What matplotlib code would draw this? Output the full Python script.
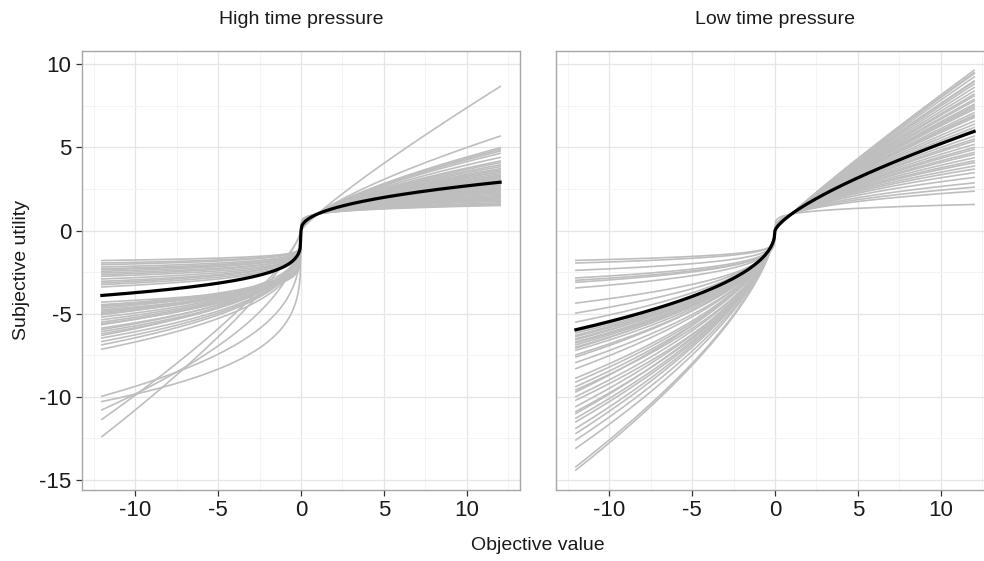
import numpy as np
import matplotlib

matplotlib.use("Agg")
import matplotlib.pyplot as plt
from matplotlib.ticker import MultipleLocator

plt.rcParams["font.family"] = ["Liberation Sans", "DejaVu Sans"]
plt.rcParams["axes.unicode_minus"] = False

PANELS = ["High time pressure", "Low time pressure"]

# subjective utility at x = 12 (gains), x = -12 and x = -4 (losses)
HIGH_GAIN_END = [8.66, 5.68, 4.98, 4.88, 4.78, 4.64, 4.40, 4.18, 4.08, 3.95, 3.84,
                 3.72, 3.65, 3.57, 3.50, 3.41, 3.33, 3.27, 3.20, 3.13, 3.05, 2.98,
                 2.85, 2.78, 2.71, 2.64, 2.57, 2.50, 2.41, 2.34, 2.27, 2.20, 2.11,
                 2.05, 1.97, 1.90, 1.83, 1.76, 1.67, 1.60, 1.55, 1.51, 2.00, 2.45]
HIGH_LOSS_END = [-1.80, -1.95, -2.05, -2.19, -2.30, -2.35, -2.45, -2.55, -2.65, -2.75,
                 -2.91, -3.05, -3.15, -3.25, -3.39,
                 -4.30, -4.45, -4.50, -4.56, -4.66, -4.76, -4.85, -4.92, -5.00, -5.06,
                 -5.20, -5.36, -5.50, -5.60, -5.66, -5.86, -5.95, -6.07, -6.20, -6.30,
                 -6.46, -6.67, -6.87, -7.13,
                 -9.96, -10.28, -10.78, -11.35, -12.39]
HIGH_LOSS_MID = [-1.62, -1.72, -1.78, -1.90, -1.98, -2.05, -2.10, -2.20, -2.25, -2.35,
                 -2.45, -2.55, -2.60, -2.70, -2.80,
                 -3.70, -3.75, -3.60, -3.75, -3.70, -3.85, -3.75, -3.80, -3.85, -3.70,
                 -3.90, -3.95, -4.00, -4.10, -4.00, -4.20, -4.15, -4.30, -4.35, -4.25,
                 -4.50, -4.60, -4.70, -4.90,
                 -6.90, -7.90, -6.20, -5.00, -5.40]

LOW_GAIN_END = [9.64, 9.44, 9.24, 9.00, 8.80, 8.60, 8.39, 8.20, 8.09, 7.89, 7.79,
                7.60, 7.39, 7.29, 7.09, 6.89, 6.79, 6.58, 6.39, 6.20, 5.68, 5.50,
                5.38, 5.18, 5.00, 4.88, 4.70, 4.58, 4.38, 4.20, 4.08, 3.88, 3.70,
                3.48, 3.20, 2.87, 2.61, 2.37, 1.57, 9.50, 8.95, 7.50, 6.95, 6.05]
LOW_LOSS_END = [-8.87, -9.10, -9.38, -9.58, -9.70, -9.98, -10.20, -10.58, -10.88,
                -11.00, -11.28, -11.50, -11.89, -12.20, -12.59, -13.09, -14.20, -14.40,
                -5.50, -6.05, -6.16, -6.30, -6.37, -6.50, -6.57, -6.70, -6.75, -6.87,
                -7.00, -7.07, -7.20, -7.47, -7.60, -7.93, -8.30,
                -1.79, -1.95, -2.39, -2.85, -2.99, -3.11, -3.45, -4.36, -4.96]
LOW_LOSS_MID = [-4.80, -4.90, -5.00, -5.20, -5.00, -5.30, -5.50, -5.50, -5.70,
                -5.60, -5.80, -5.90, -6.00, -6.10, -6.30, -6.50, -6.90, -7.00,
                -3.40, -3.60, -3.70, -3.70, -3.80, -3.85, -3.80, -3.90, -4.00, -4.00,
                -4.10, -4.00, -4.20, -4.30, -4.30, -4.50, -4.60,
                -1.50, -1.60, -1.90, -2.20, -2.30, -2.35, -2.55, -3.00, -3.20]

# group-level curve (black)
MEAN_GAIN_END = [2.91, 5.96]
MEAN_LOSS_END = [-3.90, -5.96]
MEAN_LOSS_MID = [-3.00, -3.57]

X_MAX = 12


def value_curve(x, gain_end, loss_end, loss_mid):
    alpha = np.log(gain_end) / np.log(X_MAX)
    beta = np.log(loss_end / loss_mid) / np.log(3)
    r = np.abs(x) / X_MAX
    return np.where(x >= 0, gain_end * r ** alpha, loss_end * r ** beta)


def _style_axes(ax, show_y):
    ax.set_xlim(-13.2, 13.2)
    ax.set_ylim(-15.6, 10.8)
    ax.xaxis.set_major_locator(MultipleLocator(5))
    ax.xaxis.set_minor_locator(MultipleLocator(2.5))
    ax.yaxis.set_major_locator(MultipleLocator(5))
    ax.yaxis.set_minor_locator(MultipleLocator(2.5))
    ax.grid(which="major", color="#E6E6E6", linewidth=0.9)
    ax.grid(which="minor", color="#F4F4F4", linewidth=0.7)
    ax.set_axisbelow(True)
    for spine in ax.spines.values():
        spine.set_color("#A6A6A6")
        spine.set_linewidth(1.0)
    ax.tick_params(which="major", length=4.5, width=0.9, color="#333333",
                   labelsize=16, labelcolor="#1A1A1A", pad=3)
    ax.tick_params(which="minor", length=0)
    if not show_y:
        ax.tick_params(axis="y", which="both", left=False, labelleft=False)


def main():
    fig = plt.figure(figsize=(9.84, 5.61), dpi=100)
    w, h = 438 / 984, 439 / 561
    axes = [fig.add_axes([82 / 984, 71 / 561, w, h]),
            fig.add_axes([556 / 984, 71 / 561, w, h])]

    x = np.linspace(-X_MAX, X_MAX, 481)
    data = [(HIGH_GAIN_END, HIGH_LOSS_END, HIGH_LOSS_MID),
            (LOW_GAIN_END, LOW_LOSS_END, LOW_LOSS_MID)]

    for i, ax in enumerate(axes):
        gains, losses, mids = data[i]
        for g, l, m in zip(gains, losses, mids):
            ax.plot(x, value_curve(x, g, l, m), color="#BEBEBE", linewidth=1.2, zorder=2)
        ax.plot(x, value_curve(x, MEAN_GAIN_END[i], MEAN_LOSS_END[i], MEAN_LOSS_MID[i]),
                color="black", linewidth=2.3, zorder=3)
        _style_axes(ax, show_y=(i == 0))
        ax.text(0.5, 1 + 31 / 439, PANELS[i], transform=ax.transAxes,
                ha="center", va="center", fontsize=14, color="#1A1A1A")

    fig.text(538 / 984, 1 - 545 / 561, "Objective value", ha="center", va="center",
             fontsize=14, color="#1A1A1A")
    fig.text(22 / 984, 1 - 270 / 561, "Subjective utility", ha="center", va="center",
             rotation=90, fontsize=14, color="#1A1A1A")

    fig.savefig("out.png", dpi=100)
    plt.close(fig)


if __name__ == "__main__":
    main()
